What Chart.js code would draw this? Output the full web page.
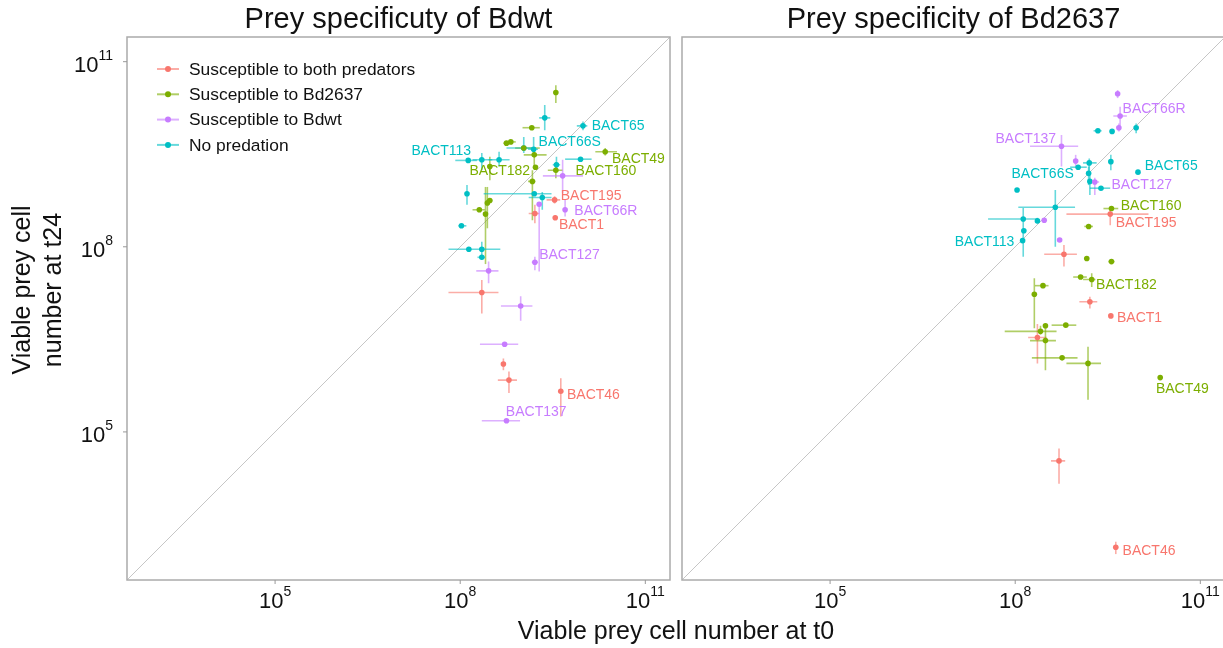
<!DOCTYPE html>
<html>
<head>
<meta charset="utf-8">
<script src="https://cdn.jsdelivr.net/npm/chart.js@4.4.1/dist/chart.umd.min.js"></script>
<style>
  html, body { margin: 0; padding: 0; background: #fff; overflow: hidden; }
  #wrap { position: relative; width: 1223px; height: 648px; }
  #left { position: absolute; left: 0; top: 0; }
  #right { position: absolute; left: 672px; top: 0; }
  #xtitle {
    position: absolute; left: 376px; top: 614px; width: 600px;
    text-align: center; font: 25px/32px 'Liberation Sans', Arial, sans-serif; color: #111;
  }
</style>
</head>
<body>
<div id="wrap">
  <canvas id="left" width="680" height="648"></canvas>
  <canvas id="right" width="561" height="648"></canvas>
  <div id="xtitle">Viable prey cell number at t0</div>
</div>
<script>
// all values are log10(cell number); rows are [x, y, xLow, xHigh, yLow, yHigh]
const groupNames = ["Susceptible to both predators", "Susceptible to Bd2637", "Susceptible to Bdwt", "No predation"];
const groupColors = ["#F8766D", "#7CAE00", "#C77CFF", "#00BFC4"];
const tickExponents = [5, 8, 11];
const axisMin = 2.6;
const axisMax = 11.4;

// panel 1: Bdwt
const bdwtBoth = [
  [9.53, 8.76, 9.40, 9.62, 8.70, 8.82],
  [9.21, 8.54, 9.11, 9.28, 8.38, 8.68],
  [9.54, 8.47, null, null, 8.44, 8.51],
  [8.35, 7.26, 7.81, 8.62, 6.92, 7.46],
  [8.70, 6.10, null, null, 6.00, 6.19],
  [8.79, 5.84, 8.61, 8.92, 5.63, 5.98],
  [9.63, 5.66, null, null, 5.25, 5.87],
];
const bdwtBd2637 = [
  [9.55, 10.50, null, null, 10.33, 10.62],
  [9.16, 9.93, 9.01, 9.29, null, null],
  [8.75, 9.68, 8.70, 8.84, null, null],
  [8.82, 9.70, 8.75, 8.90, null, null],
  [9.03, 9.60, 8.89, 9.29, null, null],
  [9.20, 9.49, 9.03, 9.40, 9.30, 9.60],
  [8.48, 9.30, null, null, 9.08, 9.46],
  [9.22, 9.29, null, null, null, null],
  [9.55, 9.24, 9.42, 9.66, 9.11, 9.37],
  [10.35, 9.54, 10.19, 10.54, 9.48, 9.60],
  [9.17, 9.06, 9.10, 9.22, 8.43, 9.24],
  [8.44, 8.71, null, null, 8.30, 8.97],
  [8.48, 8.75, 8.42, 8.52, null, null],
  [8.31, 8.60, 8.20, 8.40, null, null],
  [8.41, 8.53, null, null, 7.72, 8.97],
];
const bdwtBdwt = [
  [9.66, 9.15, 9.34, 9.99, 8.87, 9.41],
  [9.70, 8.60, null, null, 8.49, 8.76],
  [9.28, 8.69, null, null, 7.60, 8.72],
  [9.21, 7.75, 9.16, 9.26, 7.62, 7.84],
  [8.46, 7.61, 8.26, 8.62, 7.41, 7.76],
  [8.98, 7.04, 8.66, 9.17, 6.80, 7.20],
  [8.72, 6.42, 8.32, 8.94, null, null],
  [8.75, 5.18, 8.35, 8.97, null, null],
];
const bdwtNone = [
  [9.37, 10.09, 9.28, 9.46, 9.89, 10.30],
  [9.99, 9.96, 9.89, 10.06, 9.89, 10.03],
  [9.03, 9.60, 8.75, 9.20, 9.52, 9.78],
  [9.19, 9.58, 9.10, 9.26, 9.46, 9.78],
  [9.95, 9.42, 9.70, 10.13, null, null],
  [8.13, 9.40, 7.92, 8.27, null, null],
  [8.35, 9.41, 8.20, 8.52, 9.24, 9.52],
  [8.63, 9.41, 8.46, 8.80, 9.30, 9.54],
  [9.56, 9.33, 9.50, 9.62, 9.24, 9.46],
  [8.11, 8.86, null, null, 8.68, 9.00],
  [9.20, 8.86, 8.38, 9.48, null, null],
  [9.33, 8.80, 9.11, 9.48, 8.60, 8.89],
  [8.02, 8.34, 7.97, 8.10, null, null],
  [8.14, 7.96, 7.81, 8.65, null, null],
  [8.35, 7.96, null, null, 7.79, 8.08],
  [8.35, 7.83, 8.28, 8.40, null, null],
];
// [name, group, x, y] of the text's left end
const bdwtLabels = [
  ["BACT65", 3, 10.13, 9.96],
  ["BACT66S", 3, 9.27, 9.70],
  ["BACT113", 3, 7.21, 9.55],
  ["BACT49", 1, 10.46, 9.42],
  ["BACT182", 1, 8.15, 9.22],
  ["BACT160", 1, 9.87, 9.22],
  ["BACT195", 0, 9.63, 8.82],
  ["BACT66R", 2, 9.85, 8.57],
  ["BACT1", 0, 9.60, 8.35],
  ["BACT127", 2, 9.28, 7.86],
  ["BACT46", 0, 9.73, 5.60],
  ["BACT137", 2, 8.74, 5.32],
];

// panel 2: Bd2637
const bd2637Both = [
  [9.54, 8.53, 8.83, 10.16, 8.35, 8.65],
  [8.79, 7.88, 8.47, 9.00, 7.68, 8.03],
  [9.21, 7.11, 9.04, 9.33, 7.00, 7.19],
  [9.55, 6.88, null, null, null, null],
  [8.36, 6.53, 8.21, 8.51, 6.11, 6.75],
  [8.71, 4.53, 8.58, 8.81, 4.16, 4.73],
  [9.63, 3.13, null, null, 3.02, 3.22],
];
const bd2637Bd2637 = [
  [9.56, 8.62, 9.43, 9.67, null, null],
  [9.19, 8.33, 9.12, 9.26, null, null],
  [9.16, 7.81, null, null, null, null],
  [9.56, 7.76, 9.51, 9.61, null, null],
  [9.06, 7.51, 8.94, 9.16, null, null],
  [9.24, 7.47, 9.10, 9.30, 7.35, 7.57],
  [8.45, 7.37, 8.32, 8.54, null, null],
  [8.31, 7.23, null, null, 6.68, 7.49],
  [8.49, 6.72, null, null, null, null],
  [8.82, 6.73, 8.59, 8.99, null, null],
  [8.41, 6.63, 7.83, 8.67, 6.58, 6.72],
  [8.49, 6.48, 8.24, 8.66, 6.00, 6.73],
  [8.76, 6.20, 8.27, 9.01, null, null],
  [9.18, 6.11, 8.83, 9.39, 5.52, 6.38],
  [10.35, 5.88, null, null, null, null],
];
const bd2637Bdwt = [
  [9.66, 10.48, null, null, 10.41, 10.54],
  [9.70, 10.12, 9.59, 9.81, 9.95, 10.27],
  [9.68, 9.93, null, null, 9.87, 10.00],
  [8.75, 9.63, 8.24, 9.02, 9.30, 9.81],
  [8.98, 9.39, null, null, 9.30, 9.49],
  [9.29, 9.05, 9.20, 9.36, 8.84, 9.12],
  [8.47, 8.43, null, null, null, null],
  [8.72, 8.11, null, null, null, null],
];
const bd2637None = [
  [9.34, 9.88, 9.27, 9.40, null, null],
  [9.57, 9.87, null, null, null, null],
  [9.96, 9.93, null, null, 9.84, 10.00],
  [9.20, 9.36, 9.10, 9.32, 9.18, 9.43],
  [9.55, 9.38, null, null, 9.24, 9.49],
  [9.02, 9.29, 8.89, 9.16, null, null],
  [9.19, 9.19, null, null, 9.00, 9.30],
  [9.21, 9.06, null, null, 8.84, 9.19],
  [9.39, 8.95, 9.21, 9.54, null, null],
  [9.99, 9.21, null, null, null, null],
  [8.03, 8.92, null, null, null, null],
  [8.65, 8.64, 8.05, 8.97, 8.00, 8.92],
  [8.13, 8.45, 7.56, 8.36, 7.84, 8.63],
  [8.36, 8.42, null, null, 8.38, 8.47],
  [8.14, 8.26, null, null, null, null],
  [8.12, 8.10, null, null, null, null],
];
const bd2637Labels = [
  ["BACT66R", 2, 9.74, 10.23],
  ["BACT137", 2, 7.68, 9.74],
  ["BACT65", 3, 10.10, 9.31],
  ["BACT66S", 3, 7.94, 9.17],
  ["BACT127", 2, 9.56, 9.00],
  ["BACT160", 1, 9.71, 8.66],
  ["BACT195", 0, 9.63, 8.38],
  ["BACT113", 3, 7.02, 8.08],
  ["BACT182", 1, 9.31, 7.38],
  ["BACT1", 0, 9.65, 6.84],
  ["BACT49", 1, 10.28, 5.69],
  ["BACT46", 0, 9.74, 3.07],
];

const fontFamily = "'Liberation Sans', Arial, Helvetica, sans-serif";
Chart.defaults.font.family = fontFamily;

const rgba = (hex, a) => {
  const n = parseInt(hex.slice(1), 16);
  return `rgba(${(n >> 16) & 255}, ${(n >> 8) & 255}, ${n & 255}, ${a})`;
};

// "10" with a raised exponent, anchored at x by its centre or right edge
const drawPower = (ctx, exp, x, y, align) => {
  ctx.font = `22px ${fontFamily}`;
  const baseW = ctx.measureText("10").width;
  ctx.font = `14px ${fontFamily}`;
  const expW = ctx.measureText(String(exp)).width;
  const start = align === "right" ? x - baseW - expW : x - (baseW + expW) / 2;
  ctx.textAlign = "left";
  ctx.textBaseline = "middle";
  ctx.fillStyle = "#111";
  ctx.font = `22px ${fontFamily}`;
  ctx.fillText("10", start, y + 4);
  ctx.font = `14px ${fontFamily}`;
  ctx.fillText(String(exp), start + baseW, y - 6);
};

const panelPlugin = (labels, isLeft) => ({
  id: "panelExtras",
  beforeDatasetsDraw(chart) {
    const { ctx, chartArea: a, scales: { x, y } } = chart;
    ctx.save();
    ctx.beginPath();
    ctx.rect(a.left, a.top, a.width, a.height);
    ctx.clip();

    // y = x line
    ctx.strokeStyle = "#c6c6c6";
    ctx.lineWidth = 1;
    ctx.beginPath();
    ctx.moveTo(x.getPixelForValue(axisMin), y.getPixelForValue(axisMin));
    ctx.lineTo(x.getPixelForValue(axisMax), y.getPixelForValue(axisMax));
    ctx.stroke();

    // error bars
    ctx.lineWidth = 1.6;
    chart.data.datasets.forEach((ds, i) => {
      ctx.strokeStyle = rgba(groupColors[i], 0.6);
      ds.data.forEach((p) => {
        const px = x.getPixelForValue(p.x);
        const py = y.getPixelForValue(p.y);
        ctx.beginPath();
        if (p.xLo != null) {
          ctx.moveTo(x.getPixelForValue(p.xLo), py);
          ctx.lineTo(x.getPixelForValue(p.xHi), py);
        }
        if (p.yLo != null) {
          ctx.moveTo(px, y.getPixelForValue(p.yLo));
          ctx.lineTo(px, y.getPixelForValue(p.yHi));
        }
        ctx.stroke();
      });
    });
    ctx.restore();
  },
  afterDatasetsDraw(chart) {
    const { ctx, scales: { x, y } } = chart;
    ctx.save();
    ctx.font = `14px ${fontFamily}`;
    ctx.textAlign = "left";
    ctx.textBaseline = "middle";
    labels.forEach(([name, g, lx, ly]) => {
      ctx.fillStyle = groupColors[g];
      ctx.fillText(name, x.getPixelForValue(lx), y.getPixelForValue(ly));
    });
    ctx.restore();
  },
  afterDraw(chart) {
    const { ctx, chartArea: a, scales: { x, y } } = chart;
    ctx.save();
    ctx.strokeStyle = "#ababab";
    ctx.lineWidth = 1.5;
    ctx.strokeRect(a.left, a.top, a.width, a.height);

    ctx.lineWidth = 1;
    ctx.strokeStyle = "#999";
    tickExponents.forEach((v) => {
      const px = x.getPixelForValue(v);
      ctx.beginPath();
      ctx.moveTo(px, a.bottom);
      ctx.lineTo(px, a.bottom + 4);
      ctx.stroke();
      drawPower(ctx, v, px, a.bottom + 18, "center");
    });

    if (isLeft) {
      tickExponents.forEach((v) => {
        const py = y.getPixelForValue(v);
        ctx.strokeStyle = "#999";
        ctx.beginPath();
        ctx.moveTo(a.left - 4, py);
        ctx.lineTo(a.left, py);
        ctx.stroke();
        drawPower(ctx, v, a.left - 14, py, "right");
      });

      // y axis title
      ctx.save();
      ctx.translate(0, 290);
      ctx.rotate(-Math.PI / 2);
      ctx.font = `25px ${fontFamily}`;
      ctx.fillStyle = "#111";
      ctx.textAlign = "center";
      ctx.textBaseline = "middle";
      ctx.fillText("Viable prey cell", 0, 23);
      ctx.fillText("number at t24", 0, 54);
      ctx.restore();

      // legend
      ctx.font = `17.4px ${fontFamily}`;
      ctx.textAlign = "left";
      ctx.textBaseline = "middle";
      groupNames.forEach((name, i) => {
        const ry = a.top + 32 + i * 25.3;
        ctx.strokeStyle = rgba(groupColors[i], 0.6);
        ctx.lineWidth = 2;
        ctx.beginPath();
        ctx.moveTo(a.left + 30, ry);
        ctx.lineTo(a.left + 52, ry);
        ctx.stroke();
        ctx.fillStyle = groupColors[i];
        ctx.beginPath();
        ctx.arc(a.left + 41, ry, 3, 0, Math.PI * 2);
        ctx.fill();
        ctx.fillStyle = "#111";
        ctx.fillText(name, a.left + 62, ry + 1);
      });
    }
    ctx.restore();
  },
});

const buildDatasets = (series) =>
  series.map((rows, i) => ({
    label: groupNames[i],
    data: rows.map(([x, y, xLo, xHi, yLo, yHi]) => ({ x, y, xLo, xHi, yLo, yHi })),
    backgroundColor: groupColors[i],
    borderWidth: 0,
    pointRadius: 2.8,
    pointHoverRadius: 2.8,
  }));

const renderPanel = (canvasId, title, series, labels, isLeft) => {
  const axis = { type: "linear", display: false, min: axisMin, max: axisMax };
  return new Chart(canvasId, {
    type: "scatter",
    data: { datasets: buildDatasets(series) },
    options: {
      responsive: false,
      animation: false,
      layout: {
        padding: isLeft
          ? { left: 127, right: 10, top: 0, bottom: 68 }
          : { left: 10, right: 8, top: 0, bottom: 68 },
      },
      scales: { x: { ...axis }, y: { ...axis } },
      plugins: {
        legend: { display: false },
        tooltip: { enabled: false },
        title: {
          display: true,
          text: title,
          fullSize: false,
          color: "#111",
          font: { size: 29, weight: "normal", lineHeight: 1.1 },
          padding: { top: 4, bottom: 1.1 },
        },
      },
    },
    plugins: [panelPlugin(labels, isLeft)],
  });
};

renderPanel("left", "Prey specificuty of Bdwt",
  [bdwtBoth, bdwtBd2637, bdwtBdwt, bdwtNone], bdwtLabels, true);
renderPanel("right", "Prey specificity of Bd2637",
  [bd2637Both, bd2637Bd2637, bd2637Bdwt, bd2637None], bd2637Labels, false);
</script>
</body>
</html>
